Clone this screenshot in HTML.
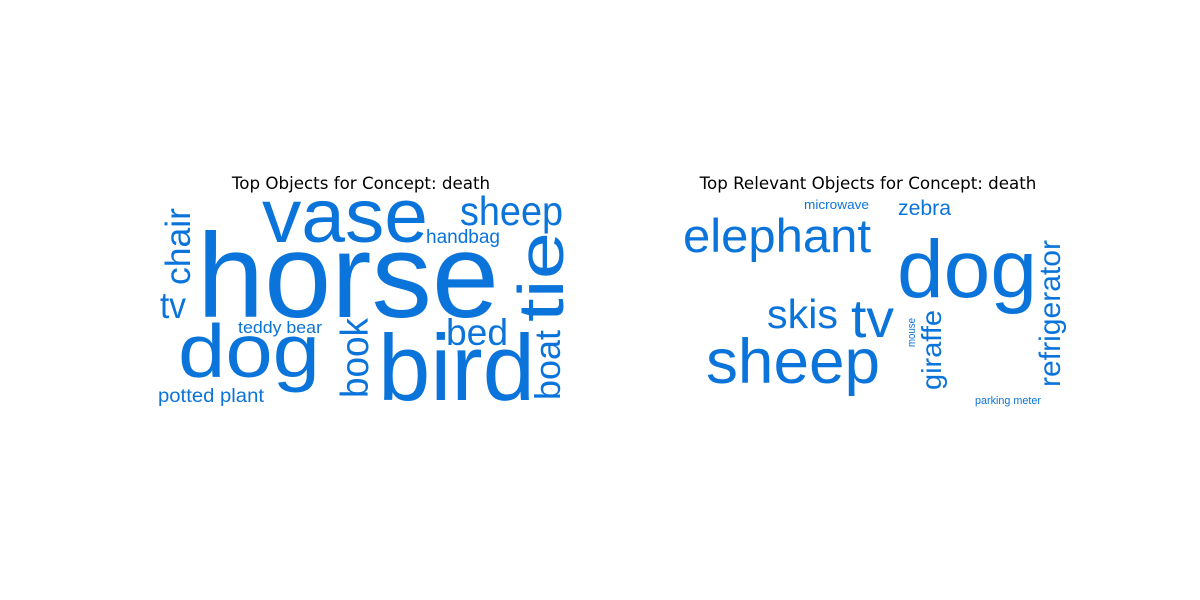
<!DOCTYPE html>
<html><head><meta charset="utf-8"><style>
html,body{margin:0;padding:0;background:#fff;}
svg{display:block;}
.w{font-family:"Liberation Sans",Arial,sans-serif;fill:#0b74da;}
.t{font-family:"DejaVu Sans","Liberation Sans",sans-serif;font-size:16.7px;fill:#000;}
</style></head><body>
<svg id="chart" width="1200" height="600" viewBox="0 0 1200 600" xmlns="http://www.w3.org/2000/svg">
<text class="t" x="361" y="189" text-anchor="middle">Top Objects for Concept: death</text>
<text class="t" x="868" y="189" text-anchor="middle">Top Relevant Objects for Concept: death</text>
<g id="left"></g>
<g id="right"></g>
</svg>
<script>
// word lists and font sizes (word weight in cloud)
const leftWords = ["horse","vase","dog","bird","sheep","handbag","tie","bed","boat","book","chair","tv","teddy bear","potted plant"];
const leftSizes = [120,76,75,94,41,19,64,37,36,39,35,37,17,19];
const rightWords = ["dog","elephant","sheep","tv","skis","zebra","microwave","refrigerator","giraffe","mouse","parking meter"];
const rightSizes = [82,47,63,54,41,21,13,30,28,11,11];
// layout: [x, y, fitted length, rotated]
const leftLayout = [[197,317,302,0],[262,242,166,0],[178,377,142,0],[378,400,157,0],[460,225,103,0],[426,243,74,0],[563,322,90,1],[446,345,62,0],[560,400,70,1],[368,398,80,1],[190,285,77,1],[160,318,26,0],[238,333,84,0],[158,402,106,0]];
const rightLayout = [[897,297,140,0],[683,252,188,0],[706,383,174,0],[851,337,43,0],[767,328,71,0],[898,215,53,0],[804,209,65,0],[1060,387,147,1],[941,390,80,1],[915,347,29,1],[975,404,66,0]];
const NS="http://www.w3.org/2000/svg";
function draw(gid, words, sizes, layout){
  const g=document.getElementById(gid);
  words.forEach((w,i)=>{
    const [x,y,len,rot]=layout[i];
    const t=document.createElementNS(NS,'text');
    t.setAttribute('class','w');
    t.setAttribute('font-size',sizes[i]);
    t.setAttribute('textLength',len);
    t.setAttribute('lengthAdjust','spacingAndGlyphs');
    if(rot){t.setAttribute('transform','translate('+x+','+y+') rotate(-90)');t.setAttribute('x',0);t.setAttribute('y',0);}
    else{t.setAttribute('x',x);t.setAttribute('y',y);}
    t.textContent=w;
    
    
    g.appendChild(t);
  });
}
draw('left',leftWords,leftSizes,leftLayout);
draw('right',rightWords,rightSizes,rightLayout);
</script>
</body></html>
